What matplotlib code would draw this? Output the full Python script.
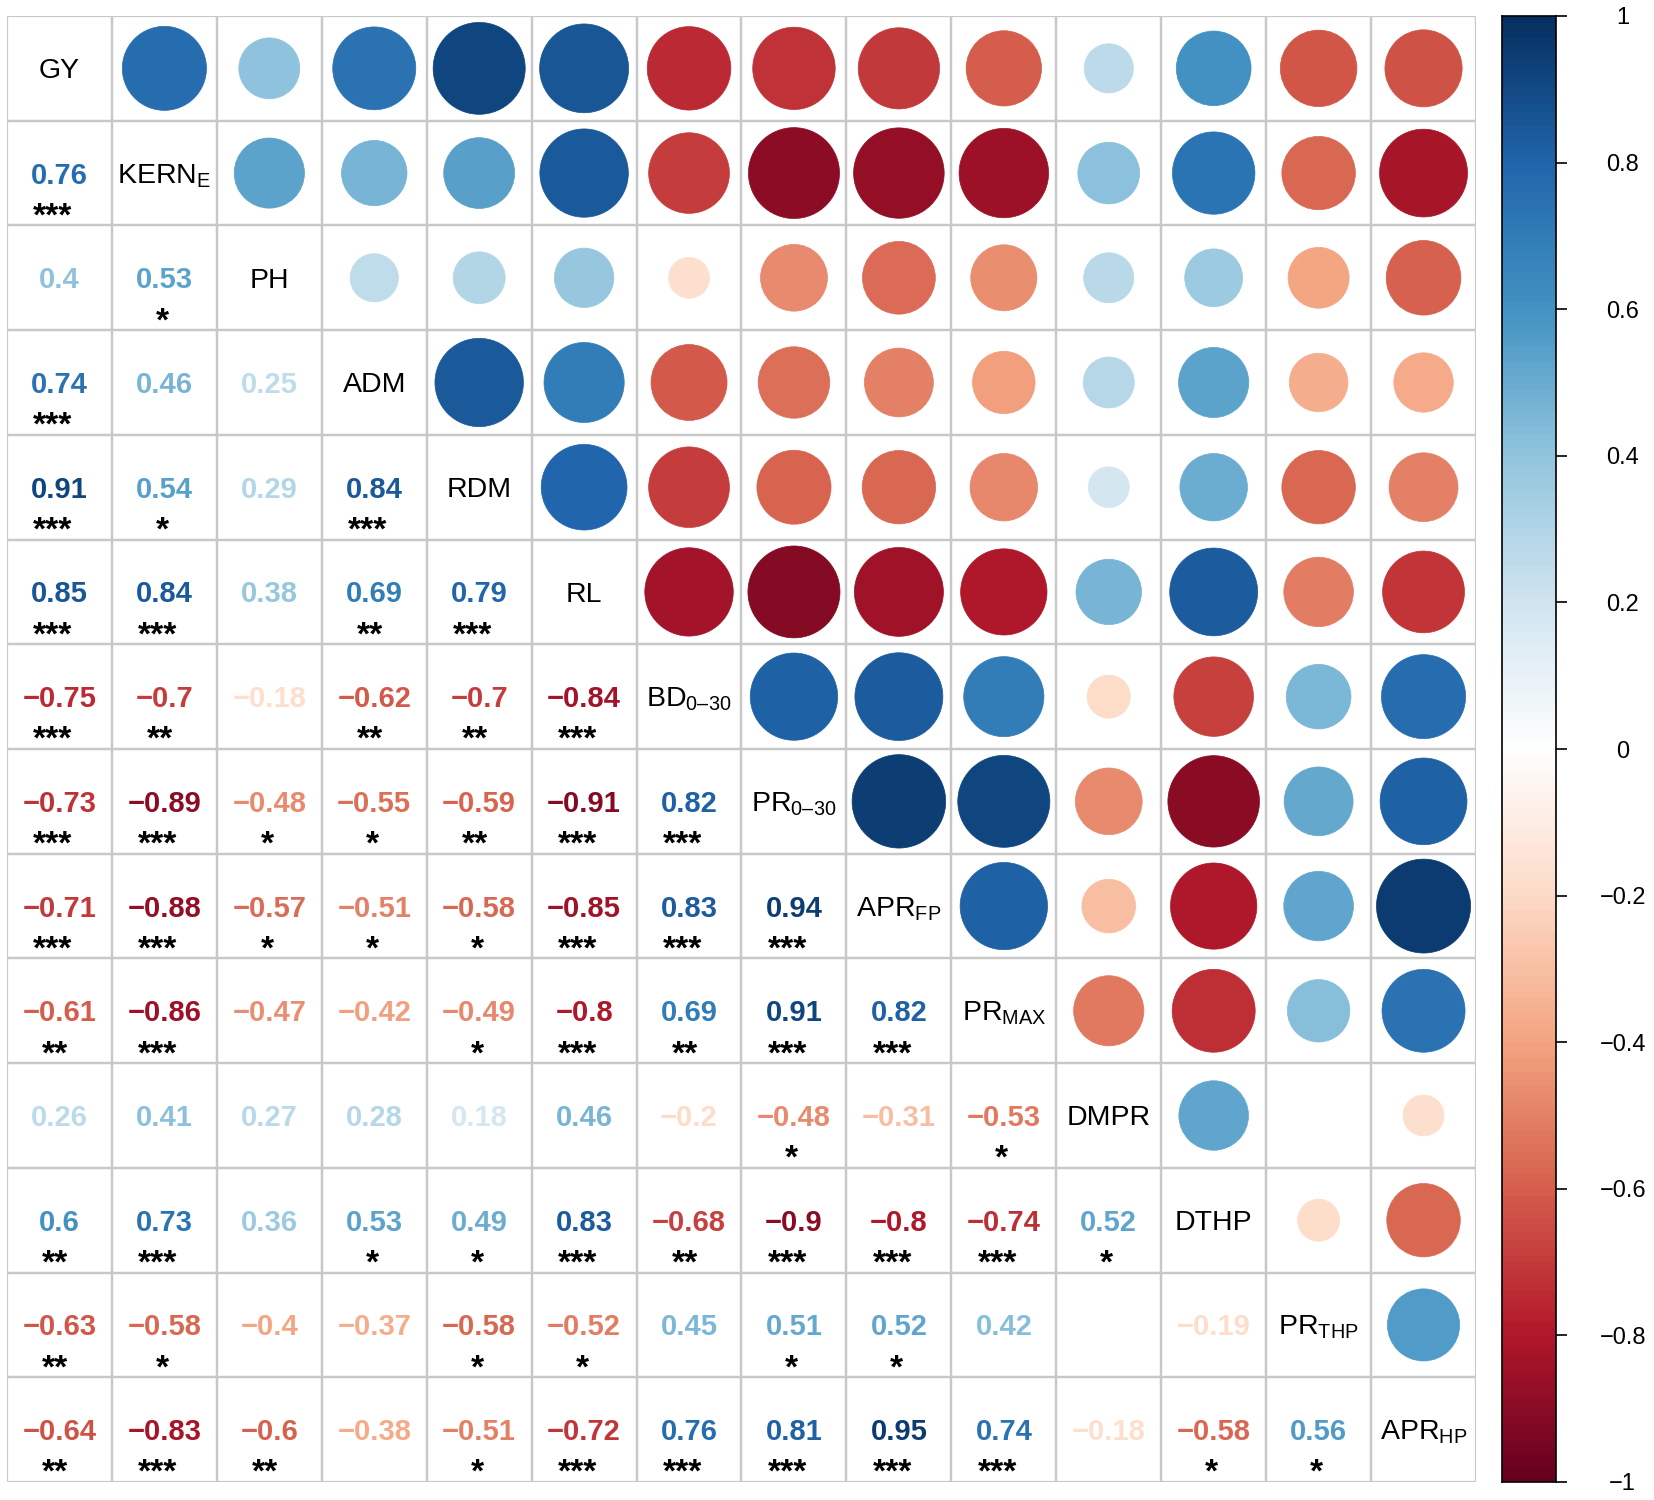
"""Correlation matrix plot, corrplot style (circles upper, numbers lower)"""
import numpy as np
import matplotlib
matplotlib.use('Agg')
import matplotlib.pyplot as plt
from matplotlib.colors import LinearSegmentedColormap
from matplotlib.patches import Circle, Rectangle

plt.rcParams['font.family'] = ['Liberation Sans', 'DejaVu Sans']
plt.rcParams['mathtext.fontset'] = 'custom'
plt.rcParams['mathtext.rm'] = 'Liberation Sans'
plt.rcParams['mathtext.it'] = 'Liberation Sans:italic'
plt.rcParams['mathtext.bf'] = 'Liberation Sans:bold'

labels = ['GY', r'KERN$_\mathregular{E}$', 'PH', 'ADM', 'RDM', 'RL',
          r'BD$_\mathregular{0–30}$', r'PR$_\mathregular{0–30}$',
          r'APR$_\mathregular{FP}$', r'PR$_\mathregular{MAX}$', 'DMPR', 'DTHP',
          r'PR$_\mathregular{THP}$', r'APR$_\mathregular{HP}$']

# lower triangle, row by row (None = blank cell)
r_kern = [0.76]
r_ph = [0.4, 0.53]
r_adm = [0.74, 0.46, 0.25]
r_rdm = [0.91, 0.54, 0.29, 0.84]
r_rl = [0.85, 0.84, 0.38, 0.69, 0.79]
r_bd = [-0.75, -0.7, -0.18, -0.62, -0.7, -0.84]
r_pr030 = [-0.73, -0.89, -0.48, -0.55, -0.59, -0.91, 0.82]
r_aprfp = [-0.71, -0.88, -0.57, -0.51, -0.58, -0.85, 0.83, 0.94]
r_prmax = [-0.61, -0.86, -0.47, -0.42, -0.49, -0.8, 0.69, 0.91, 0.82]
r_dmpr = [0.26, 0.41, 0.27, 0.28, 0.18, 0.46, -0.2, -0.48, -0.31, -0.53]
r_dthp = [0.6, 0.73, 0.36, 0.53, 0.49, 0.83, -0.68, -0.9, -0.8, -0.74, 0.52]
r_prthp = [-0.63, -0.58, -0.4, -0.37, -0.58, -0.52, 0.45, 0.51, 0.52, 0.42, None, -0.19]
r_aprhp = [-0.64, -0.83, -0.6, -0.38, -0.51, -0.72, 0.76, 0.81, 0.95, 0.74, -0.18, -0.58, 0.56]

s_kern = ['***']
s_ph = ['', '*']
s_adm = ['***', '', '']
s_rdm = ['***', '*', '', '***']
s_rl = ['***', '***', '', '**', '***']
s_bd = ['***', '**', '', '**', '**', '***']
s_pr030 = ['***', '***', '*', '*', '**', '***', '***']
s_aprfp = ['***', '***', '*', '*', '*', '***', '***', '***']
s_prmax = ['**', '***', '', '', '*', '***', '**', '***', '***']
s_dmpr = ['', '', '', '', '', '', '', '*', '', '*']
s_dthp = ['**', '***', '', '*', '*', '***', '**', '***', '***', '***', '*']
s_prthp = ['**', '*', '', '', '*', '*', '', '*', '*', '', '', '']
s_aprhp = ['**', '***', '**', '', '*', '***', '***', '***', '***', '***', '', '*', '*']

rows = [r_kern, r_ph, r_adm, r_rdm, r_rl, r_bd, r_pr030, r_aprfp, r_prmax,
        r_dmpr, r_dthp, r_prthp, r_aprhp]
sigs = [s_kern, s_ph, s_adm, s_rdm, s_rl, s_bd, s_pr030, s_aprfp, s_prmax,
        s_dmpr, s_dthp, s_prthp, s_aprhp]

n = len(labels)
corr = np.full((n, n), np.nan)
star = [['' for _ in range(n)] for _ in range(n)]
for i, (row, srow) in enumerate(zip(rows, sigs), start=1):
    for j, (v, s) in enumerate(zip(row, srow)):
        if v is not None:
            corr[i, j] = v
            corr[j, i] = v
            star[i][j] = s

cmap = LinearSegmentedColormap.from_list('rdbu2', [
    '#67001F', '#B2182B', '#D6604D', '#F4A582', '#FDDBC7', '#FFFFFF',
    '#D1E5F0', '#92C5DE', '#4393C3', '#2166AC', '#053061'], N=200)

W, H = 1654, 1500
fig = plt.figure(figsize=(W / 100, H / 100), dpi=100)
ax = fig.add_axes([7 / W, 18 / H, 1469 / W, 1466 / H])
ax.set_xlim(0, n)
ax.set_ylim(n, 0)
ax.axis('off')

grid_col = '#c8c8c8'
for i in range(n):
    for j in range(n):
        ax.add_patch(Rectangle((j, i), 1, 1, fill=False, edgecolor=grid_col,
                               linewidth=1.6, zorder=3))
        v = corr[i, j]
        cx, cy = j + 0.5, i + 0.5
        if i == j:
            ax.text(cx, cy + 0.095, labels[i], ha='center', va='baseline',
                    fontsize=20.5, color='black')
        elif j < i:
            if np.isnan(v):
                continue
            txt = ('%g' % v).replace('-', '\u2212')
            ax.text(cx, cy + 0.1, txt, ha='center', va='baseline',
                    fontsize=21, fontweight='bold', color=cmap((v + 1) / 2))
            s = star[i][j]
            if s:
                off = -0.02 - 0.022 * (len(s) - 1)
                ax.text(cx + off, i + 1.0, s, ha='center', va='baseline',
                        fontsize=24, fontweight='bold', color='black')
        else:
            if np.isnan(v):
                continue
            rad = 0.46 * np.sqrt(abs(v))
            ax.add_patch(Circle((cx, cy), rad, facecolor=cmap((v + 1) / 2),
                                edgecolor=cmap((v + 1) / 2), linewidth=0.5,
                                zorder=2))

# colour legend
cax = fig.add_axes([1502 / W, 18 / H, 54 / W, 1466 / H])
grad = np.linspace(-1, 1, 400).reshape(-1, 1)
cax.imshow(grad, origin='lower', aspect='auto', extent=[0, 1, -1, 1], cmap=cmap,
           vmin=-1, vmax=1)
cax.set_xlim(0, 1)
cax.set_ylim(-1, 1)
cax.set_xticks([])
cax.yaxis.tick_right()
ticks = [-1, -0.8, -0.6, -0.4, -0.2, 0, 0.2, 0.4, 0.6, 0.8, 1]
cax.set_yticks(ticks)
cax.set_yticklabels([('%g' % t).replace('-', '\u2212') for t in ticks])
cax.tick_params(axis='y', length=8, width=1.2, pad=40, labelsize=17)
for lbl in cax.get_yticklabels():
    lbl.set_horizontalalignment('center')
for sp in cax.spines.values():
    sp.set_linewidth(1.2)
    sp.set_color('black')

fig.savefig('out.png', dpi=100)
